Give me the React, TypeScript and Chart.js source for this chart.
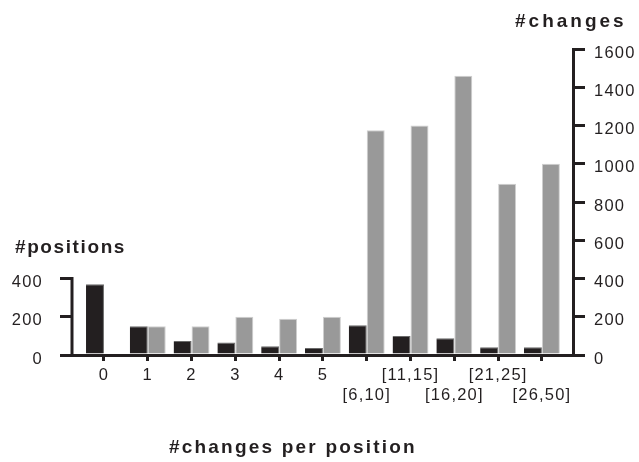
import React, { useEffect, useRef } from "react";
import { Chart, registerables } from "chart.js";

Chart.register(...registerables);

const categories = ["0", "1", "2", "3", "4", "5", "[6,10]", "[11,15]", "[16,20]", "[21,25]", "[26,50]"];
const positionsCounts = [370, 150, 73, 65, 46, 37, 155, 100, 87, 40, 40];
const changesCounts = [0, 150, 150, 200, 190, 200, 1175, 1200, 1460, 895, 1000];
const leftTicks = [0, 200, 400];
const rightTicks = [0, 200, 400, 600, 800, 1000, 1200, 1400, 1600];

const INK = "#231f20";
const GREY = "#999999";
const FONT = "'Liberation Sans', Arial, Helvetica, sans-serif";

const decorPlugin = {
  id: "decor",
  beforeDraw(chart: any) {
    (chart.ctx as any).letterSpacing = "1.2px";
  },
  afterDraw(chart: any) {
    const ctx = chart.ctx;
    const yl = chart.scales.y;
    const x = chart.chartArea.left;
    ctx.save();
    ctx.strokeStyle = INK;
    ctx.lineWidth = 3;
    ctx.lineCap = "butt";
    ctx.beginPath();
    ctx.moveTo(x, yl.getPixelForValue(leftTicks[0]) + 1.5);
    ctx.lineTo(x, yl.getPixelForValue(leftTicks[leftTicks.length - 1]) - 1.5);
    ctx.stroke();

    ctx.fillStyle = INK;
    ctx.font = `bold 19px ${FONT}`;
    ctx.textAlign = "left";
    ctx.textBaseline = "alphabetic";
    (ctx as any).letterSpacing = "1.6px";
    ctx.fillText("#positions", 15, 253);
    (ctx as any).letterSpacing = "3px";
    ctx.fillText("#changes", 515, 27);
    (ctx as any).letterSpacing = "2.2px";
    ctx.fillText("#changes per position", 169, 453);
    ctx.restore();
  },
};

export default function App() {
  const ref = useRef<HTMLCanvasElement | null>(null);

  useEffect(() => {
    if (!ref.current) return;
    const chart = new Chart(ref.current, {
      type: "bar",
      data: {
        datasets: [
          {
            label: "#positions",
            data: positionsCounts.map((v, i) => ({ x: i, y: v })),
            backgroundColor: INK,
            borderColor: "#6a6a6a",
            borderWidth: { top: 1, right: 1, left: 0, bottom: 0 },
            borderSkipped: "bottom",
            yAxisID: "y",
            categoryPercentage: 0.82,
            barPercentage: 1,
          } as any,
          {
            label: "#changes",
            data: changesCounts.map((v, i) => ({ x: i, y: v })),
            backgroundColor: GREY,
            borderColor: "#cfcfcf",
            borderWidth: 1,
            borderSkipped: "bottom",
            yAxisID: "y1",
            categoryPercentage: 0.82,
            barPercentage: 1,
          } as any,
        ],
      },
      options: {
        animation: false,
        responsive: true,
        maintainAspectRatio: false,
        events: [],
        layout: { padding: { top: 49, left: 0, right: 0, bottom: 0 } },
        plugins: {
          legend: { display: false },
          title: { display: false },
          tooltip: { enabled: false },
        },
        scales: {
          x: {
            type: "linear",
            min: -0.73,
            max: 10.71,
            offset: false,
            z: 1,
            afterBuildTicks: (s: any) => {
              s.ticks = categories.map((_, i) => ({ value: i }));
            },
            afterFit: (s: any) => {
              s.height = 107;
            },
            grid: {
              offset: false,
              drawOnChartArea: false,
              drawTicks: true,
              tickLength: 6,
              lineWidth: 3,
              color: INK,
            },
            border: { display: true, width: 3, color: INK },
            ticks: {
              autoSkip: false,
              maxRotation: 0,
              minRotation: 0,
              padding: 5,
              color: INK,
              font: { family: FONT, size: 16.5 },
              callback: (v: any) => {
                const i = Math.round(Number(v));
                const lab = categories[i];
                if (lab === undefined) return "";
                return i >= 6 && i % 2 === 0 ? ["", lab] : lab;
              },
            },
          },
          y: {
            type: "linear",
            position: "left",
            min: 0,
            max: 1600,
            afterBuildTicks: (s: any) => {
              s.ticks = leftTicks.map((v) => ({ value: v }));
            },
            afterFit: (s: any) => {
              s.width = 72;
            },
            grid: {
              drawOnChartArea: false,
              drawTicks: true,
              tickLength: 12,
              lineWidth: 3,
              color: INK,
            },
            border: { display: false },
            ticks: {
              padding: 17,
              labelOffset: 4,
              color: INK,
              font: { family: FONT, size: 16.5 },
              callback: (v: any) => String(v),
            },
          },
          y1: {
            type: "linear",
            position: "right",
            min: 0,
            max: 1600,
            afterBuildTicks: (s: any) => {
              s.ticks = rightTicks.map((v) => ({ value: v }));
            },
            afterFit: (s: any) => {
              s.width = 66;
            },
            grid: {
              drawOnChartArea: false,
              drawTicks: true,
              tickLength: 12,
              lineWidth: 3,
              color: INK,
            },
            border: { display: true, width: 3, color: INK },
            ticks: {
              padding: 9,
              labelOffset: 4,
              color: INK,
              font: { family: FONT, size: 16.5 },
              callback: (v: any) => String(v),
            },
          },
        },
      } as any,
      plugins: [decorPlugin],
    });
    return () => chart.destroy();
  }, []);

  return (
    <div style={{ position: "fixed", left: 0, top: 0, width: 639, height: 462, background: "#fff" }}>
      <canvas ref={ref} />
    </div>
  );
}
